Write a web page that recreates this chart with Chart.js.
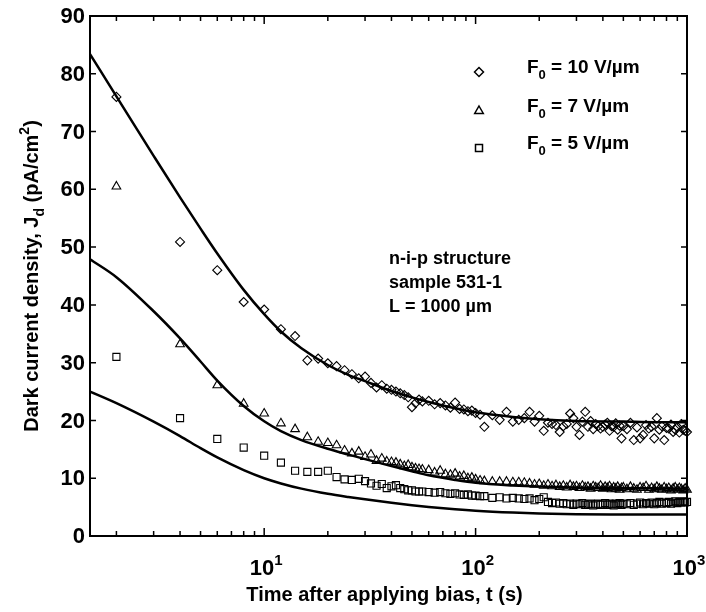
<!DOCTYPE html>
<html>
<head>
<meta charset="utf-8">
<script src="https://cdn.jsdelivr.net/npm/chart.js@4.4.1/dist/chart.umd.min.js"></script>
<style>
html, body { margin: 0; padding: 0; background: #fff; }
#wrap { width: 706px; height: 612px; position: relative; }
</style>
</head>
<body>
<div id="wrap"><canvas id="chart"></canvas></div>
<script>
// Measurement times (s), shared by the three data series
const times = [
    2, 4, 6, 8, 10, 12, 14, 16, 18, 20, 22, 24, 26, 28, 30, 32, 34, 36, 38, 40, 42, 44, 46, 48, 50, 52, 54, 56,
    60, 64, 68, 72, 76, 80, 84, 88, 92, 96, 100, 105, 110,
    120, 130, 140, 150, 160, 170, 180, 190, 200, 210, 220, 230, 240, 250, 260, 270, 280, 290, 300,
    310, 320, 330, 340, 350, 360, 370, 380, 390, 400, 410, 420, 430, 440, 450, 460, 470, 480, 490, 500,
    520, 540, 560, 580, 600, 620, 640, 660, 680, 700, 720, 740, 760, 780, 800, 820, 840, 860, 880, 900,
    920, 940, 960, 980, 1000
];

// F0 = 10 V/um (diamonds)
const diamond10 = [
    76.0, 50.9, 46.0, 40.5, 39.2, 35.8, 34.6, 30.4, 30.7, 29.9, 29.4, 28.7, 28.0, 27.3, 27.6, 26.5, 25.7, 26.1, 25.5, 25.3, 25.0, 24.7, 24.4, 24.0, 22.3, 23.0, 23.6, 23.3,
    23.4, 22.8, 23.0, 22.6, 22.2, 23.1, 22.0, 21.9, 21.6, 21.7, 21.3, 21.0, 18.9,
    20.9, 20.1, 21.5, 19.8, 20.1, 20.4, 21.5, 19.8, 20.8, 18.2, 19.6, 19.4, 19.2, 18.0, 19.0, 19.4, 21.2, 20.4, 18.9,
    17.5, 19.8, 21.5, 18.9, 19.9, 18.5, 19.4, 19.0, 18.6, 18.9, 19.3, 19.6, 18.2, 19.0, 18.9, 19.5, 18.4, 19.1, 16.9, 19.0,
    18.5, 19.6, 16.6, 18.8, 16.9, 17.5, 19.2, 18.6, 18.9, 16.9, 20.4, 18.4, 19.0, 16.6, 18.7, 18.6, 19.3, 18.0, 18.4, 18.9,
    17.9, 19.4, 18.4, 18.2, 18.0
];

// F0 = 7 V/um (triangles)
const triangle7 = [
    60.5, 33.2, 26.1, 22.9, 21.2, 19.5, 18.5, 17.1, 16.3, 16.1, 15.7, 14.8, 14.3, 14.6, 13.7, 14.1, 13.0, 13.4, 12.9, 12.8, 12.7, 12.4, 12.1, 12.3, 11.9, 11.7, 11.6, 11.5,
    11.4, 11.0, 11.3, 10.7, 10.6, 10.8, 10.3, 10.4, 10.0, 10.1, 9.8, 9.6, 9.5,
    9.4, 9.4, 9.4, 9.3, 9.3, 9.2, 9.1, 8.9, 9.0, 8.7, 8.9, 8.6, 8.8, 8.5, 8.7, 8.4, 8.8, 8.5, 8.6,
    8.3, 8.7, 8.4, 8.5, 8.2, 8.6, 8.4, 8.3, 8.7, 8.2, 8.5, 8.3, 8.6, 8.1, 8.4, 8.2, 8.5, 8.0, 8.3, 8.4,
    8.1, 8.5, 8.2, 8.0, 8.4, 8.3, 8.6, 8.0, 8.3, 8.1, 8.5, 8.2, 8.0, 8.4, 8.1, 8.3, 7.9, 8.2, 8.4, 8.0,
    8.3, 8.1, 7.9, 8.2, 8.0
];

// F0 = 5 V/um (squares)
const square5 = [
    31.0, 20.4, 16.8, 15.3, 13.9, 12.7, 11.3, 11.1, 11.1, 11.3, 10.2, 9.8, 9.7, 9.9, 9.5, 9.1, 8.7, 9.0, 8.3, 8.6, 8.8, 8.3, 8.1, 7.9, 7.9, 7.7, 7.7, 7.7,
    7.6, 7.5, 7.6, 7.4, 7.3, 7.4, 7.2, 7.1, 7.2, 7.0, 7.0, 6.9, 6.9,
    6.6, 6.7, 6.5, 6.6, 6.5, 6.4, 6.5, 6.2, 6.4, 6.7, 5.9, 5.7, 5.8, 5.6, 5.7, 5.5, 5.6, 5.4, 5.6,
    5.5, 5.7, 5.4, 5.5, 5.6, 5.3, 5.5, 5.6, 5.4, 5.5, 5.7, 5.4, 5.6, 5.5, 5.3, 5.6, 5.5, 5.7, 5.4, 5.6,
    5.5, 5.7, 5.4, 5.6, 5.8, 5.5, 5.7, 5.6, 5.8, 5.5, 5.7, 5.9, 5.6, 5.8, 5.7, 5.9, 5.6, 5.8, 6.0, 5.7,
    5.9, 5.8, 6.0, 5.8, 5.9
];

// Model curves (solid lines)
const fitTimes = [1.5, 2, 3, 4, 5, 6, 8, 10, 12, 15, 20, 25, 30, 40, 50, 60, 80, 100, 150, 200, 300, 500, 700, 1000];
const fit10 = [83.4, 76.1, 65.8, 58.6, 53.2, 48.9, 42.6, 38.4, 35.4, 32.5, 29.6, 27.9, 26.8, 25.1, 24.0, 23.2, 22.1, 21.4, 20.6, 20.2, 19.9, 19.8, 19.7, 19.7];
const fit7 = [47.9, 44.8, 38.9, 34.2, 30.2, 26.9, 22.5, 19.85, 18.15, 16.6, 15.1, 14.1, 13.3, 12.1, 11.2, 10.5, 9.7, 9.2, 8.75, 8.55, 8.4, 8.3, 8.25, 8.2];
const fit5 = [25.0, 23.0, 19.8, 17.3, 15.2, 13.6, 11.4, 10.0, 9.1, 8.2, 7.3, 6.75, 6.35, 5.75, 5.33, 5.03, 4.63, 4.38, 4.06, 3.9, 3.77, 3.72, 3.7, 3.7];

// Axes
const yTicks = [0, 10, 20, 30, 40, 50, 60, 70, 80, 90];
const xDecades = [10, 100, 1000];
const xExponents = ['1', '2', '3'];
const legendFields = ['10', '7', '5'];
const noteLines = ['n-i-p structure', 'sample 531-1', 'L = 1000 \u00b5m'];

const FONT = '"Liberation Sans", Arial, Helvetica, sans-serif';

// Text mit Index / Exponent
const drawRich = (ctx, parts, x, y, size, align) => {
    const fontFor = k => `bold ${k ? Math.round(size * 0.68) : size}px ${FONT}`;
    let total = 0;
    parts.forEach(([t, k]) => { ctx.font = fontFor(k); total += ctx.measureText(t).width; });
    let cx = align === 'center' ? x - total / 2 : align === 'right' ? x - total : x;
    ctx.textAlign = 'left';
    ctx.textBaseline = 'alphabetic';
    parts.forEach(([t, k]) => {
        ctx.font = fontFor(k);
        const dy = k === 'sub' ? size * 0.32 : k === 'sup' ? -size * 0.45 : 0;
        ctx.fillText(t, cx, y + dy);
        cx += ctx.measureText(t).width;
    });
};

const drawMarker = (ctx, style, x, y) => {
    ctx.beginPath();
    if (style === 'rectRot') {
        ctx.moveTo(x - 4.5, y); ctx.lineTo(x, y - 4.5); ctx.lineTo(x + 4.5, y); ctx.lineTo(x, y + 4.5);
    } else if (style === 'triangle') {
        ctx.moveTo(x, y - 5); ctx.lineTo(x + 4.3, y + 2.5); ctx.lineTo(x - 4.3, y + 2.5);
    } else {
        ctx.rect(x - 3.5, y - 3.5, 7, 7);
    }
    ctx.closePath();
    ctx.stroke();
};

const framePlugin = {
    id: 'frame',
    afterDraw(chart) {
        const { ctx, chartArea: a, scales } = chart;
        const xs = scales.x, ys = scales.y;
        ctx.save();
        ctx.fillStyle = '#000';
        ctx.strokeStyle = '#000';

        // Box
        ctx.lineWidth = 2;
        ctx.strokeRect(a.left, a.top, a.right - a.left, a.bottom - a.top);

        // Y ticks + labels
        ctx.lineWidth = 1.5;
        yTicks.forEach(v => {
            const py = ys.getPixelForValue(v);
            ctx.beginPath();
            ctx.moveTo(a.left, py); ctx.lineTo(a.left + 6, py);
            ctx.moveTo(a.right, py); ctx.lineTo(a.right - 6, py);
            ctx.stroke();
            ctx.font = `bold 22px ${FONT}`;
            ctx.textAlign = 'right';
            ctx.textBaseline = 'middle';
            ctx.fillText(String(v), a.left - 5, py + 1);
        });

        // X ticks (log)
        for (let d = 1; d <= 100; d *= 10) {
            for (let k = 1; k <= 9; k++) {
                const v = k * d;
                if (v < xs.min || v > xs.max) continue;
                const px = xs.getPixelForValue(v);
                const len = k === 1 ? 8 : 5;
                ctx.beginPath();
                ctx.moveTo(px, a.bottom); ctx.lineTo(px, a.bottom - len);
                ctx.moveTo(px, a.top); ctx.lineTo(px, a.top + len);
                ctx.stroke();
            }
        }
        xDecades.forEach((v, i) => {
            const px = xs.getPixelForValue(v);
            drawRich(ctx, [['10', ''], [xExponents[i], 'sup']], px + 2, a.bottom + 39, 22, 'center');
        });

        // Axis titles
        drawRich(ctx, [['Time after applying bias, t (s)', '']], (a.left + a.right) / 2 - 4, a.bottom + 65, 20, 'center');
        ctx.save();
        ctx.translate(38, (a.top + a.bottom) / 2);
        ctx.rotate(-Math.PI / 2);
        drawRich(ctx, [['Dark current density, J', ''], ['d', 'sub'], [' (pA/cm', ''], ['2', 'sup'], [')', '']], 0, 0, 20, 'center');
        ctx.restore();

        // Legend
        const styles = chart.data.datasets.slice(0, 3).map(ds => ds.pointStyle);
        ctx.lineWidth = 1.5;
        [72, 111, 148].forEach((ly, i) => {
            drawMarker(ctx, styles[i], 479, ly);
            drawRich(ctx, [['F', ''], ['0', 'sub'], [` = ${legendFields[i]} V/\u00b5m`, '']], 527, ly + 1, 19, 'left');
        });

        // Note
        noteLines.forEach((s, i) => {
            drawRich(ctx, [[s, '']], 389, 264 + i * 24, 18, 'left');
        });
        ctx.restore();
    }
};

const toPoints = (xs, ys) => xs.map((t, i) => ({ x: t, y: ys[i] }));

const markerSet = (label, vals, style, radius) => ({
    label,
    data: toPoints(times, vals),
    showLine: false,
    pointStyle: style,
    pointRadius: radius,
    pointBorderWidth: 1.1,
    pointBorderColor: '#000',
    pointBackgroundColor: 'rgba(0,0,0,0)',
    clip: 8
});

const lineSet = (label, vals) => ({
    label,
    data: toPoints(fitTimes, vals),
    showLine: true,
    pointRadius: 0,
    borderColor: '#000',
    borderWidth: 2.5,
    cubicInterpolationMode: 'monotone',
    fill: false
});

document.addEventListener('DOMContentLoaded', () => {
    new Chart(document.getElementById('chart'), {
        type: 'scatter',
        data: {
            datasets: [
                markerSet('F0 = 10 V/um', diamond10, 'rectRot', 4.5),
                markerSet('F0 = 7 V/um', triangle7, 'triangle', 5),
                markerSet('F0 = 5 V/um', square5, 'rect', 5),
                lineSet('fit 10', fit10),
                lineSet('fit 7', fit7),
                lineSet('fit 5', fit5)
            ]
        },
        options: {
            responsive: true,
            maintainAspectRatio: false,
            animation: false,
            layout: { padding: { left: 90, right: 19, top: 16, bottom: 76 } },
            plugins: { legend: { display: false }, tooltip: { enabled: false } },
            scales: {
                x: { type: 'logarithmic', min: 1.5, max: 1000, display: false },
                y: { type: 'linear', min: 0, max: 90, display: false }
            }
        },
        plugins: [framePlugin]
    });
});
</script>
</body>
</html>
